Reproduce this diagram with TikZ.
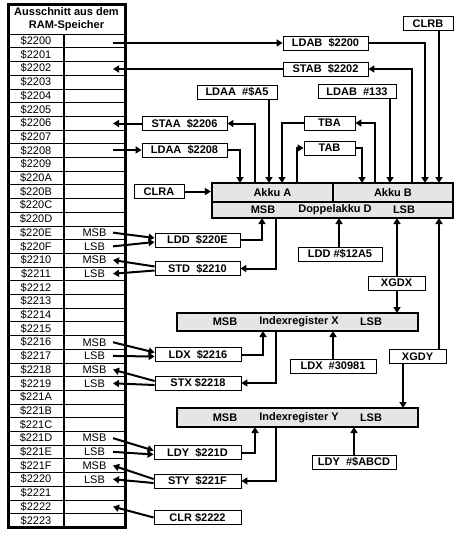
\documentclass[tikz,border=0pt]{standalone}
\usepackage{fontspec}
\setmainfont{Liberation Sans}
\usetikzlibrary{arrows.meta}

\begin{document}
\fontsize{11}{13}\selectfont
\begin{tikzpicture}[
    x=1pt, y=-1pt,
    op/.style={draw, line width=0.8pt, fill=white, font=\bfseries,
               minimum height=14pt, inner sep=0pt},
    reg/.style={draw, line width=2.2pt, fill=black!10, font=\bfseries,
                inner sep=0pt},
    lbl/.style={font=\bfseries, inner sep=0pt},
    arr/.style={line width=2pt, -{Triangle[length=6pt,width=7pt]}}
]
\useasboundingbox (0,0) rectangle (465,533);

% RAM table
\draw[line width=3pt] (8,4) rectangle (125,527);
\draw[line width=0.8pt] (8,34) -- (125,34);
\foreach \k in {1,...,35}
  \draw[line width=0.6pt] (8,34+13.7*\k) -- (125,34+13.7*\k);
\draw[line width=2.5pt] (64,34) -- (64,527);
\node[lbl, align=center] (ramhead) at (66.5,19.5) {Ausschnitt aus dem\\RAM-Speicher};

\foreach \a [count=\i from 0] in {2200,2201,2202,2203,2204,2205,2206,2207,2208,2209,
    220A,220B,220C,220D,220E,220F,2210,2211,2212,2213,2214,2215,2216,2217,2218,2219,
    221A,221B,221C,221D,221E,221F,2220,2221,2222,2223} {
  \node[inner sep=0pt] (a\a) at (36,{34+13.7*(\i+0.5)}) {\$\a};
  \coordinate (r\a) at (113,{34+13.7*(\i+0.5)});
}
\foreach \a/\b in {220E/MSB,220F/LSB,2210/MSB,2211/LSB,2216/MSB,2217/LSB,
    2218/MSB,2219/LSB,221D/MSB,221E/LSB,221F/MSB,2220/LSB}
  \node[inner sep=0pt] (b\a) at ([xshift=-18.5pt]r\a) {\b};

% accumulators
\node[reg, minimum width=121pt, minimum height=19pt] (akkua) at (272.5,192.5) {Akku A};
\node[reg, minimum width=120pt, minimum height=19pt] (akkub) at (393,192.5) {Akku B};
\node[reg, minimum width=241pt, minimum height=16pt] (akkud) at (332.5,210) {};
\node[lbl] (dmsb) at (263,210) {MSB};
\node[lbl] (dname) at (335,210) {Doppelakku D};
\node[lbl] (dlsb) at (404,210) {LSB};

% index registers
\node[reg, minimum width=241pt, minimum height=18pt] (ixr) at (297.5,322) {};
\node[lbl] (xmsb) at (225,322) {MSB};
\node[lbl] (xname) at (299,322) {Indexregister X};
\node[lbl] (xlsb) at (371,322) {LSB};
\node[reg, minimum width=241pt, minimum height=19pt] (iyr) at (297.5,417.5) {};
\node[lbl] (ymsb) at (225,417.5) {MSB};
\node[lbl] (yname) at (299,417.5) {Indexregister Y};
\node[lbl] (ylsb) at (371,417.5) {LSB};

% instructions
\node[op, minimum width=50pt] (clrb)   at (428,23.5)   {CLRB};
\node[op, minimum width=85pt] (ldabm)  at (325.5,43)   {LDAB\ \ \$2200};
\node[op, minimum width=85pt] (stabm)  at (325.5,69)   {STAB\ \ \$2202};
\node[op, minimum width=80pt] (ldaai)  at (237,92)     {LDAA\ \ \#\$A5};
\node[op, minimum width=78pt] (ldabi)  at (357,91.5)   {LDAB\ \ \#133};
\node[op, minimum width=85pt] (staa)   at (184.5,123.5) {STAA\ \ \$2206};
\node[op, minimum width=85pt] (ldaam)  at (184.5,150)  {LDAA\ \ \$2208};
\node[op, minimum width=51pt] (tba)    at (329.5,123)  {TBA};
\node[op, minimum width=51pt] (tab)    at (329.5,148)  {TAB};
\node[op, minimum width=50pt] (clra)   at (159,191.5)  {CLRA};
\node[op, minimum width=85pt] (ldd)    at (197.5,240)  {LDD\ \ \$220E};
\node[op, minimum width=85pt] (std)    at (197.5,268.5) {STD\ \ \$2210};
\node[op, minimum width=84pt] (lddi)   at (340,254)    {LDD \#\$12A5};
\node[op, minimum width=57pt] (xgdx)   at (396.5,283)  {XGDX};
\node[op, minimum width=86pt] (ldx)    at (198,354.5)  {LDX\ \ \$2216};
\node[op, minimum width=86pt] (stx)    at (198,383)    {STX \$2218};
\node[op, minimum width=86pt] (ldxi)   at (333,366)    {LDX\ \ \#30981};
\node[op, minimum width=57pt] (xgdy)   at (417.5,356.5) {XGDY};
\node[op, minimum width=87pt] (ldy)    at (197.5,452.5) {LDY\ \ \$221D};
\node[op, minimum width=87pt] (sty)    at (197.5,481)  {STY\ \ \$221F};
\node[op, minimum width=87pt] (clr)    at (197.5,517.5) {CLR \$2222};
\node[op, minimum width=84pt] (ldyi)   at (354,462)    {LDY\ \ \#\$ABCD};

% ports on the registers
\coordinate (ta1) at (240,183);
\coordinate (ta2) at (255,183);
\coordinate (ta3) at (269,183);
\coordinate (ta4) at (282,183);
\coordinate (ta5) at (297,183);
\coordinate (tb1) at (362,183);
\coordinate (tb2) at (375,183);
\coordinate (tb3) at (390,183);
\coordinate (tb4) at (412,183);
\coordinate (tb5) at (425,183);
\coordinate (tb6) at (439,183);
\coordinate (bd1) at (262,218);
\coordinate (bd2) at (276,218);
\coordinate (bd3) at (339,218);
\coordinate (bd4) at (397,218);
\coordinate (bd5) at (439,218);
\coordinate (xt1) at (397,313);
\coordinate (xb1) at (263,331);
\coordinate (xb2) at (276,331);
\coordinate (xb3) at (333,331);
\coordinate (yt1) at (403,408);
\coordinate (yb1) at (255,427);
\coordinate (yb2) at (276,427);
\coordinate (yb3) at (354,427);

% accu A and B
\draw[arr] (r2200 |- ldabm.west) -- (ldabm.west);
\draw[arr] (ldabm.east) -| (tb5);
\draw[arr] (stabm.west) -- (r2202 |- stabm.west);
\draw[arr] (tb4) |- (stabm.east);
\draw[arr] (clrb.south -| tb6) -- (tb6);
\draw[arr] (ldaai.south -| ta3) -- (ta3);
\draw[arr] (ldabi.south -| tb3) -- (tb3);
\draw[arr] (ta2) |- (staa.east);
\draw[arr] (staa.west) -- (r2206 |- staa.west);
\draw[arr] (r2208 |- ldaam.west) -- (ldaam.west);
\draw[arr] (ldaam.east) -| (ta1);
\draw[arr] (tb2) |- (tba.east);
\draw[arr] (tba.west) -| (ta4);
\draw[arr] (ta5) |- (tab.west);
\draw[arr] (tab.east) -| (tb1);
\draw[arr] (clra.east) -- (clra.east -| akkua.west);

% accu D
\draw[arr] (r220E) -- ([yshift=2pt]ldd.west);
\draw[arr] (r220F) -- ([yshift=-2pt]ldd.west);
\draw[arr] (ldd.east) -| (bd1);
\draw[arr] (bd2) |- (std.east);
\draw[arr] ([yshift=2pt]std.west) -- (r2210);
\draw[arr] ([yshift=-2pt]std.west) -- (r2211);
\draw[arr] (lddi.north -| bd3) -- (bd3);
\draw[arr] (xgdx.north -| bd4) -- (bd4);
\draw[arr] (xgdx.south -| xt1) -- (xt1);
\draw[arr] (xgdy.north -| bd5) -- (bd5);
\draw[arr] (xgdy.south -| yt1) -- (yt1);

% index X
\draw[arr] (r2216) -- ([yshift=2pt]ldx.west);
\draw[arr] (r2217) -- ([yshift=-2pt]ldx.west);
\draw[arr] (ldx.east) -| (xb1);
\draw[arr] (xb2) |- (stx.east);
\draw[arr] ([yshift=2pt]stx.west) -- (r2218);
\draw[arr] ([yshift=-2pt]stx.west) -- (r2219);
\draw[arr] (ldxi.north -| xb3) -- (xb3);

% index Y
\draw[arr] (r221D) -- ([yshift=2pt]ldy.west);
\draw[arr] (r221E) -- ([yshift=-2pt]ldy.west);
\draw[arr] (ldy.east) -| (yb1);
\draw[arr] (yb2) |- (sty.east);
\draw[arr] ([yshift=2pt]sty.west) -- (r221F);
\draw[arr] ([yshift=-2pt]sty.west) -- (r2220);
\draw[arr] (clr.west) -- (r2222);
\draw[arr] (ldyi.north -| yb3) -- (yb3);
\end{tikzpicture}
\end{document}
